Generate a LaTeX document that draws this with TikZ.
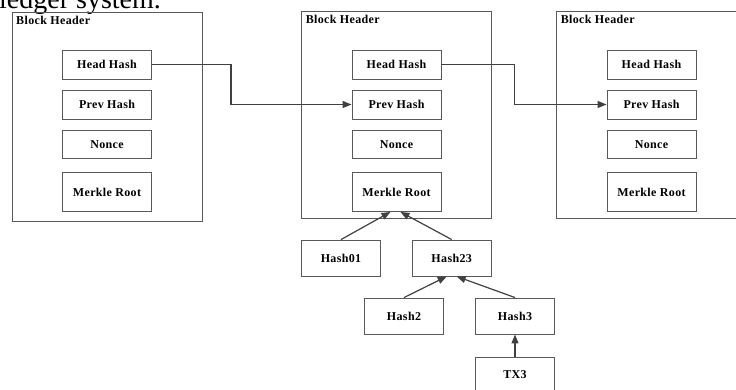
\documentclass[tikz,border=0pt]{standalone}
\usepackage{fontspec}
\setmainfont{Liberation Serif}
\newfontfamily\boxfont[LetterSpace=3]{Liberation Serif}
\usetikzlibrary{arrows.meta}

\tikzset{
  block/.style={draw=black!65, line width=0.9pt, minimum width=190pt, minimum height=207pt, inner sep=0pt},
  field/.style={draw=black!65, line width=0.9pt, minimum width=89pt, minimum height=29pt, inner sep=0pt,
    font=\boxfont\bfseries\fontsize{12}{14}\selectfont},
  hashbox/.style={field, minimum width=79pt, minimum height=36pt},
  title/.style={anchor=base west, inner sep=0pt, font=\boxfont\bfseries\fontsize{12}{14}\selectfont},
  link/.style={draw=black!75, line width=1.2pt, -{Triangle[length=9pt,width=7pt]}}
}

\begin{document}
\begin{tikzpicture}[x=1pt, y=-1pt]
\useasboundingbox (0,0) rectangle (736,389);

\node[anchor=base west, inner sep=0pt, font=\fontsize{28}{30}\selectfont] (caption) at (-1,8) {ledger system.};

% the three block headers
\node[block, minimum height=209pt] (b1) at (107,116.5) {};
\node[block] (b2) at (396.5,114.5) {};
\node[block] (b3) at (651.5,114.5) {};

\foreach \b/\x in {1/107, 2/396.5, 3/651.5} {
  \node[title] (bh\b) at ([xshift=4.5pt,yshift=-13pt]b\b.north west) {Block Header};
  \node[field] (hh\b) at (\x,64.5) {Head Hash};
  \node[field] (ph\b) at (\x,104.5) {Prev Hash};
  \node[field, minimum height=28pt] (nc\b) at (\x,144.5) {Nonce};
  \node[field, minimum height=39pt] (mr\b) at (\x,192) {Merkle Root};
}

% merkle tree
\node[hashbox] (h01) at (341,258) {Hash01};
\node[hashbox] (h23) at (451.7,258) {Hash23};
\node[hashbox] (h2) at (404,316) {Hash2};
\node[hashbox] (h3) at (515,316) {Hash3};
\node[hashbox] (tx3) at (515,375) {TX3};

\draw[link] (hh1.east) -- ++(79,0) |- (ph2.west);
\draw[link] (hh2.east) -- ++(73,0) |- (ph3.west);
\draw[link] (h01.north) -- ([xshift=-6pt]mr2.south);
\draw[link] (h23.north) -- ([xshift=4pt]mr2.south);
\draw[link] (h2.north) -- ([xshift=-5pt]h23.south);
\draw[link] (h3.north) -- ([xshift=5pt]h23.south);
\draw[link] (tx3.north) -- (h3.south);
\end{tikzpicture}
\end{document}
